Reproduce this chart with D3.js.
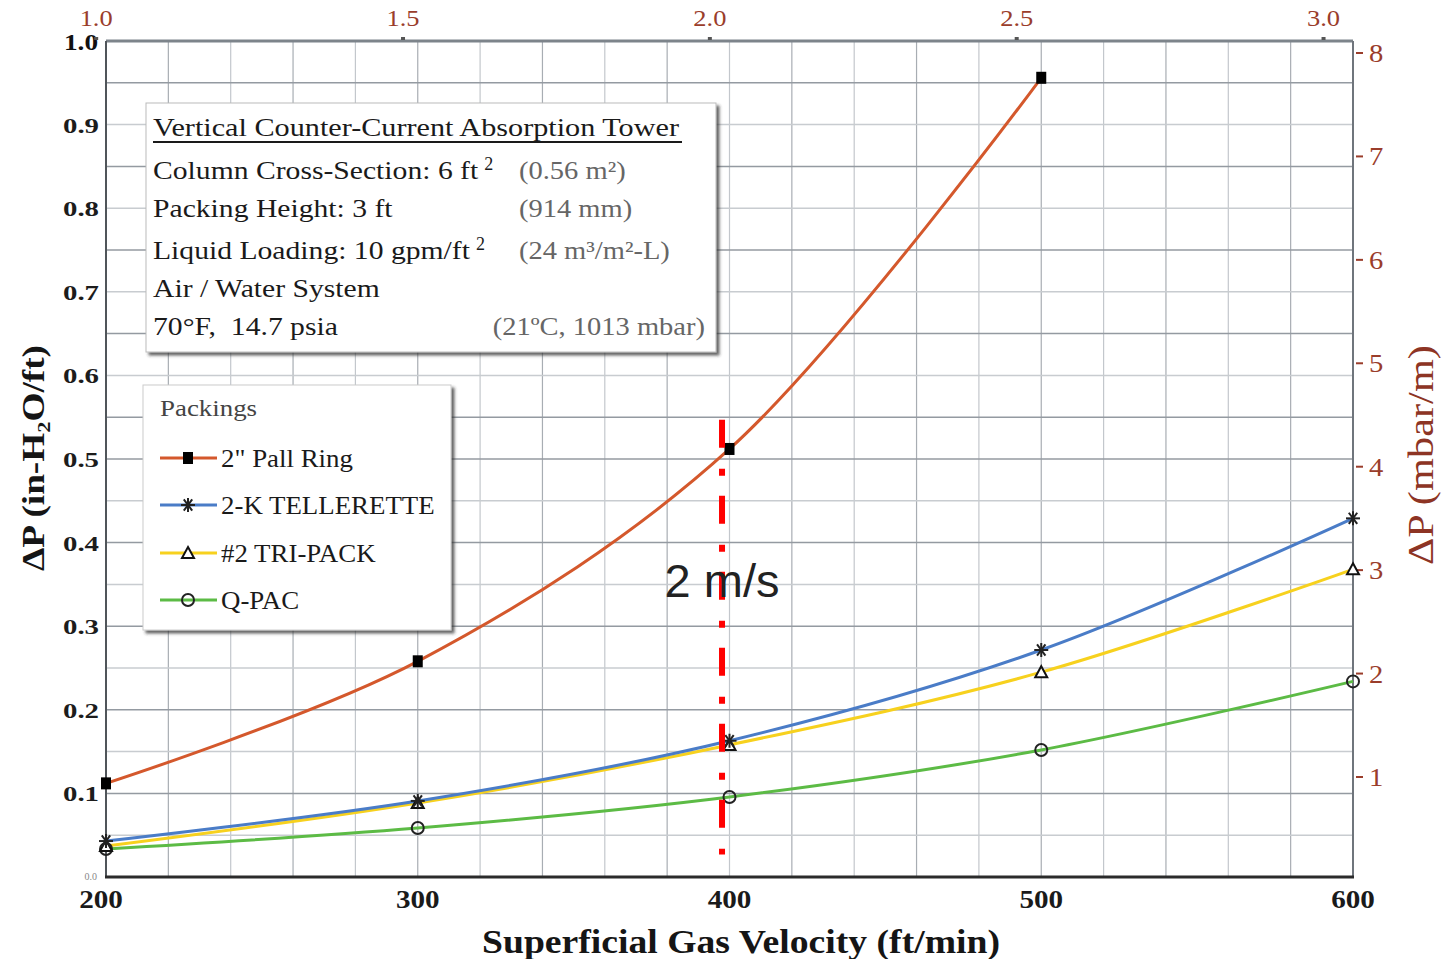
<!DOCTYPE html>
<html><head><meta charset="utf-8">
<script src="https://cdn.jsdelivr.net/npm/d3@7/dist/d3.min.js"></script>
<style>
html,body{margin:0;padding:0;background:#fff;}
svg{display:block;font-family:"Liberation Serif","Times New Roman",serif;}
</style></head>
<body>
<svg id="chart" width="1444" height="959"></svg>
<script>
// ---------- data ----------
const velocity = [200, 300, 400, 500, 600];               // ft/min
const pallRing   = [0.112, 0.258, 0.512, 0.956];          // in-H2O/ft (no 600 point)
const tellerette = [0.043, 0.091, 0.163, 0.2715, 0.429];
const triPack    = [0.037, 0.0885, 0.158, 0.245, 0.368];
const qPac       = [0.0335, 0.0586, 0.0957, 0.152, 0.234];
const seriesNames = ['2" Pall Ring', '2-K TELLERETTE', '#2 TRI-PACK', 'Q-PAC'];
const leftTicks  = [0.1, 0.2, 0.3, 0.4, 0.5, 0.6, 0.7, 0.8, 0.9];
const bottomTicks = [200, 300, 400, 500, 600];
const topTicks   = [1.0, 1.5, 2.0, 2.5, 3.0];              // m/s
const rightTicks = [1, 2, 3, 4, 5, 6, 7, 8];               // mbar/m
const markerVelocity = 397.6;                              // hand-drawn "2 m/s" line
const markerRange = [0.027, 0.547];
const infoTitle = "Vertical Counter-Current Absorption Tower";
const infoLeft  = ["Column Cross-Section: 6 ft", "Packing Height: 3 ft", "Liquid Loading: 10 gpm/ft", "Air / Water System", "70°F,  14.7 psia"];
const infoSup   = ["2", "", "2", "", ""];
const infoRight = ["(0.56 m²)", "(914 mm)", "(24 m³/m²-L)", "", "(21ºC, 1013 mbar)"];

// ---------- layout ----------
const L = 106, R = 1353, T = 41, B = 877;
const svg = d3.select("#chart");
const x = d3.scaleLinear().domain([200, 600]).range([L, R]);
const y = d3.scaleLinear().domain([0, 1]).range([B, T]);
const xTop = d3.scaleLinear().domain([200 / 196.85, 600 / 196.85]).range([L, R]);
const yRight = d3.scaleLinear().domain([0.033, 8.116]).range([B, T]);

// widen a text horizontally (reference glyphs are stretched)
function stretch(sel, k) {
  sel.each(function () {
    const w = this.getComputedTextLength();
    d3.select(this).attr("textLength", w * k).attr("lengthAdjust", "spacingAndGlyphs");
  });
  return sel;
}

const defs = svg.append("defs");
const f = defs.append("filter").attr("id", "shadow").attr("x", "-5%").attr("y", "-5%").attr("width", "115%").attr("height", "115%");
f.append("feDropShadow").attr("dx", 3).attr("dy", 3).attr("stdDeviation", 1.6).attr("flood-color", "#333").attr("flood-opacity", 0.75);

// grid
const g = svg.append("g");
const vGrid = d3.range(220, 600, 20);
g.selectAll(".vg").data(vGrid).join("line")
  .attr("x1", d => x(d)).attr("x2", d => x(d)).attr("y1", T).attr("y2", B)
  .attr("stroke", (d, i) => i % 2 ? "#c3c7cc" : "#a8adb3").attr("stroke-width", 1.2);
const hGrid = d3.range(1, 20).map(i => i * 0.05);
g.selectAll(".hg").data(hGrid).join("line")
  .attr("x1", L).attr("x2", R).attr("y1", d => y(d)).attr("y2", d => y(d))
  .attr("stroke", (d, i) => {
    const major = i % 2 === 1;
    const dark = d < 0.52 ? major : !major;
    return dark ? "#949aa1" : "#c8ccd0";
  }).attr("stroke-width", 1.5);

// frame
svg.append("line").attr("x1", L).attr("x2", R).attr("y1", T).attr("y2", T).attr("stroke", "#7d848b").attr("stroke-width", 3);
svg.append("line").attr("x1", R).attr("x2", R).attr("y1", T).attr("y2", B).attr("stroke", "#6f757c").attr("stroke-width", 2);
svg.append("line").attr("x1", L).attr("x2", L).attr("y1", T).attr("y2", B).attr("stroke", "#50555a").attr("stroke-width", 2);
svg.append("line").attr("x1", L - 1).attr("x2", R + 1).attr("y1", B).attr("y2", B).attr("stroke", "#2b2b2b").attr("stroke-width", 3);

// left axis labels
svg.selectAll(".lt").data(leftTicks).join("text")
  .attr("x", 99).attr("y", d => y(d) + 8).attr("text-anchor", "end")
  .attr("font-weight", "bold").attr("font-size", 22).attr("fill", "#1c1c1c")
  .attr("textLength", 36).attr("lengthAdjust", "spacingAndGlyphs")
  .text(d => d.toFixed(1));
svg.append("text").attr("x", 98).attr("y", T + 9).attr("text-anchor", "end")
  .attr("font-weight", "bold").attr("font-size", 24).attr("fill", "#111")
  .attr("textLength", 34).attr("lengthAdjust", "spacingAndGlyphs").text("1.0");
svg.append("text").attr("x", 97).attr("y", B + 3).attr("text-anchor", "end")
  .attr("font-size", 10).attr("fill", "#888").text("0.0");

// bottom labels
stretch(svg.selectAll(".bt").data(bottomTicks).join("text")
  .attr("x", (d, i) => x(d) - (i === 0 ? 5 : 0)).attr("y", 908).attr("text-anchor", "middle")
  .attr("font-weight", "bold").attr("font-size", 26).attr("fill", "#1a1a1a")
  .text(d => d), 1.12);

// top labels (m/s)
stretch(svg.selectAll(".tt").data(topTicks).join("text")
  .attr("x", d => xTop(d)).attr("y", 26).attr("text-anchor", "middle")
  .attr("font-size", 23).attr("fill", "#9a3d2b")
  .text(d => d.toFixed(1)), 1.15);
svg.selectAll(".ttm").data(topTicks).join("rect")
  .attr("x", d => xTop(d) - 2).attr("y", T - 4).attr("width", 4).attr("height", 3).attr("fill", "#555");

// right labels (mbar/m)
svg.selectAll(".rtm").data(rightTicks).join("line")
  .attr("x1", R + 3).attr("x2", R + 10).attr("y1", d => yRight(d)).attr("y2", d => yRight(d))
  .attr("stroke", "#9a3d2b").attr("stroke-width", 2);
stretch(svg.selectAll(".rt").data(rightTicks).join("text")
  .attr("x", R + 16).attr("y", d => yRight(d) + 9).attr("font-size", 26).attr("fill", "#9a3d2b")
  .text(d => d), 1.1);

// axis titles
svg.append("text").attr("transform", "translate(44,458) rotate(-90)").attr("text-anchor", "middle")
  .attr("font-weight", "bold").attr("font-size", 32).attr("fill", "#151515")
  .attr("textLength", 226).attr("lengthAdjust", "spacingAndGlyphs").text("ΔP (in-H₂O/ft)");
svg.append("text").attr("transform", "translate(1433,455) rotate(-90)").attr("text-anchor", "middle")
  .attr("font-size", 35).attr("fill", "#8d3424")
  .attr("textLength", 220).attr("lengthAdjust", "spacingAndGlyphs").text("ΔP (mbar/m)");
svg.append("text").attr("x", 741).attr("y", 953).attr("text-anchor", "middle")
  .attr("font-weight", "bold").attr("font-size", 33).attr("fill", "#151515")
  .attr("textLength", 518).attr("lengthAdjust", "spacingAndGlyphs").text("Superficial Gas Velocity (ft/min)");

// series
const series = [
  { name: seriesNames[0], vals: pallRing,   color: "#d4582c", marker: "square" },
  { name: seriesNames[1], vals: tellerette, color: "#4a7cc7", marker: "star" },
  { name: seriesNames[2], vals: triPack,    color: "#f7d11e", marker: "triangle" },
  { name: seriesNames[3], vals: qPac,       color: "#5cbb45", marker: "circle" }
];
const line = d3.line().x(d => x(d[0])).y(d => y(d[1])).curve(d3.curveCatmullRom.alpha(0.5));

function drawMarker(sel, type, cx, cy) {
  if (type === "square") {
    sel.append("rect").attr("x", cx - 5).attr("y", cy - 6).attr("width", 10).attr("height", 12).attr("fill", "#000");
  } else if (type === "star") {
    const s = 7;
    const p = [[-s, 0, s, 0], [-s * 0.6, -s * 0.8, s * 0.6, s * 0.8], [-s * 0.6, s * 0.8, s * 0.6, -s * 0.8], [0, -s, 0, s]];
    p.forEach(q => sel.append("line").attr("x1", cx + q[0]).attr("y1", cy + q[1]).attr("x2", cx + q[2]).attr("y2", cy + q[3])
      .attr("stroke", "#222").attr("stroke-width", 2));
  } else if (type === "triangle") {
    sel.append("path").attr("d", `M${cx},${cy - 6}L${cx + 6},${cy + 5}L${cx - 6},${cy + 5}Z`)
      .attr("fill", "#fff").attr("stroke", "#111").attr("stroke-width", 2);
  } else {
    sel.append("circle").attr("cx", cx).attr("cy", cy).attr("r", 6).attr("fill", "none").attr("stroke", "#222").attr("stroke-width", 2);
  }
}

const order = [3, 2, 1, 0];
order.forEach(k => {
  const s = series[k];
  const pts = s.vals.map((v, i) => [velocity[i], v]);
  svg.append("path").attr("d", line(pts)).attr("fill", "none").attr("stroke", s.color).attr("stroke-width", 3);
});
order.forEach(k => {
  const s = series[k];
  const mg = svg.append("g");
  s.vals.forEach((v, i) => drawMarker(mg, s.marker, x(velocity[i]), y(v)));
});

// 2 m/s marker line
svg.append("line").attr("x1", x(markerVelocity)).attr("x2", x(markerVelocity))
  .attr("y1", y(markerRange[1])).attr("y2", y(markerRange[0]))
  .attr("stroke", "#ff0000").attr("stroke-width", 6).attr("stroke-dasharray", "28,21,7,20");
svg.append("text").attr("x", x(markerVelocity)).attr("y", 597).attr("text-anchor", "middle")
  .attr("font-family", "'Liberation Sans', Arial, sans-serif").attr("font-size", 47).attr("fill", "#222").text("2 m/s");

// info box
const ib = svg.append("g");
ib.append("rect").attr("x", 146).attr("y", 103).attr("width", 570).attr("height", 249)
  .attr("fill", "#fff").attr("stroke", "#bbb").attr("stroke-width", 1).attr("filter", "url(#shadow)");
ib.append("text").attr("x", 153).attr("y", 136).attr("font-size", 26).attr("fill", "#1a1a1a")
  .attr("textLength", 526).attr("lengthAdjust", "spacingAndGlyphs").text(infoTitle);
ib.append("line").attr("x1", 153).attr("x2", 682).attr("y1", 142).attr("y2", 142).attr("stroke", "#1a1a1a").attr("stroke-width", 2);
const infoY = [179, 217, 259, 297, 335];
infoLeft.forEach((t, i) => {
  const tx = ib.append("text").attr("x", 153).attr("y", infoY[i]).attr("font-size", 26).attr("fill", "#1a1a1a")
    .style("white-space", "pre").text(t);
  stretch(tx, 1.14);
  if (infoSup[i]) {
    const w = +tx.attr("textLength");
    ib.append("text").attr("x", 153 + w + 6).attr("y", infoY[i] - 9).attr("font-size", 18).attr("fill", "#1a1a1a").text(infoSup[i]);
  }
  if (infoRight[i]) {
    const last = i === 4;
    const rt = ib.append("text").attr("x", last ? 705 : 519).attr("y", infoY[i]).attr("text-anchor", last ? "end" : "start")
      .attr("font-size", 25).attr("fill", "#666").text(infoRight[i]);
    stretch(rt, 1.14);
  }
});

// legend
const lg = svg.append("g");
lg.append("rect").attr("x", 143).attr("y", 385).attr("width", 308).attr("height", 245)
  .attr("fill", "#fff").attr("stroke", "#ccc").attr("stroke-width", 1).attr("filter", "url(#shadow)");
stretch(lg.append("text").attr("x", 160).attr("y", 416).attr("font-size", 24).attr("fill", "#444").text("Packings"), 1.12);
const legY = [458, 505, 553, 600];
series.forEach((s, i) => {
  lg.append("line").attr("x1", 160).attr("x2", 217).attr("y1", legY[i]).attr("y2", legY[i]).attr("stroke", s.color).attr("stroke-width", 3);
  drawMarker(lg, s.marker, 188, legY[i]);
  stretch(lg.append("text").attr("x", 221).attr("y", legY[i] + 9).attr("font-size", 25).attr("fill", "#1a1a1a").text(s.name), 1.075);
});
</script>
</body></html>
